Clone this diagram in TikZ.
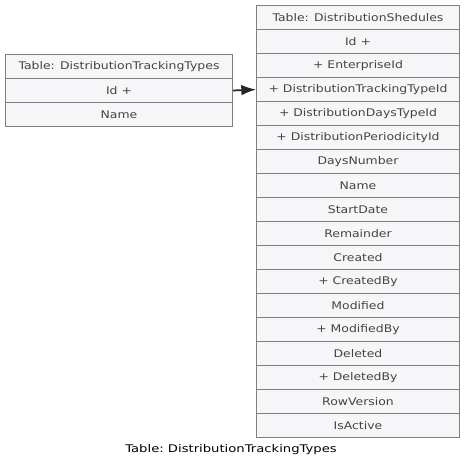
\documentclass[tikz,border=0pt]{standalone}
\usepackage{fontspec}
\setmainfont{DejaVu Sans}
\newfontfamily\rowfont[FakeStretch=1.18]{DejaVu Sans}
\newfontfamily\captionfont[FakeStretch=1.25]{DejaVu Sans}
\usetikzlibrary{positioning,arrows.meta}

\definecolor{rowfill}{HTML}{F6F6F8}
\definecolor{rowline}{HTML}{7F7F7F}
\definecolor{rowtext}{HTML}{444444}

\newcommand*{\rowh}{24}
\newcommand*{\dttx}{5}
\newcommand*{\dtty}{54}
\newcommand*{\dsx}{256}
\newcommand*{\dsy}{5}

\begin{document}
\begin{tikzpicture}
[
	x=0.75pt, y=-0.75pt,
	field/.style={draw=rowline,fill=rowfill,text=rowtext,line width=0.75pt,
		font=\rowfont\fontsize{7.9}{9}\selectfont,minimum height=18pt,inner sep=0pt,anchor=north west},
	dttfield/.style={field,minimum width=170.25pt},
	dsfield/.style={field,minimum width=152.25pt},
	fkarrow/.style={-{Latex[length=11pt,width=8pt]},line width=1.3pt,draw=black!85,fill=black}
]

	\useasboundingbox (0,0) rectangle (464,469);

	% table DistributionTrackingTypes
	\foreach \name [count=\i from 0] in {Table: DistributionTrackingTypes,Id +,Name}
		\node[dttfield] (dtt\i) at (\dttx,{\dtty+\i*\rowh}) {\name};

	% table DistributionShedules
	\foreach \name [count=\i from 0] in {Table: DistributionShedules,Id +,+ EnterpriseId,
		+ DistributionTrackingTypeId,+ DistributionDaysTypeId,+ DistributionPeriodicityId,
		DaysNumber,Name,StartDate,Remainder,Created,+ CreatedBy,Modified,+ ModifiedBy,
		Deleted,+ DeletedBy,RowVersion,IsActive}
		\node[dsfield] (ds\i) at (\dsx,{\dsy+\i*\rowh}) {\name};

	% relation
	\draw[fkarrow] (dtt1.east) -- (ds3.west);

	% caption
	\node[font=\captionfont\fontsize{7.9}{9}\selectfont] (caption) at (231,450) {Table:\ DistributionTrackingTypes};

\end{tikzpicture}
\end{document}
